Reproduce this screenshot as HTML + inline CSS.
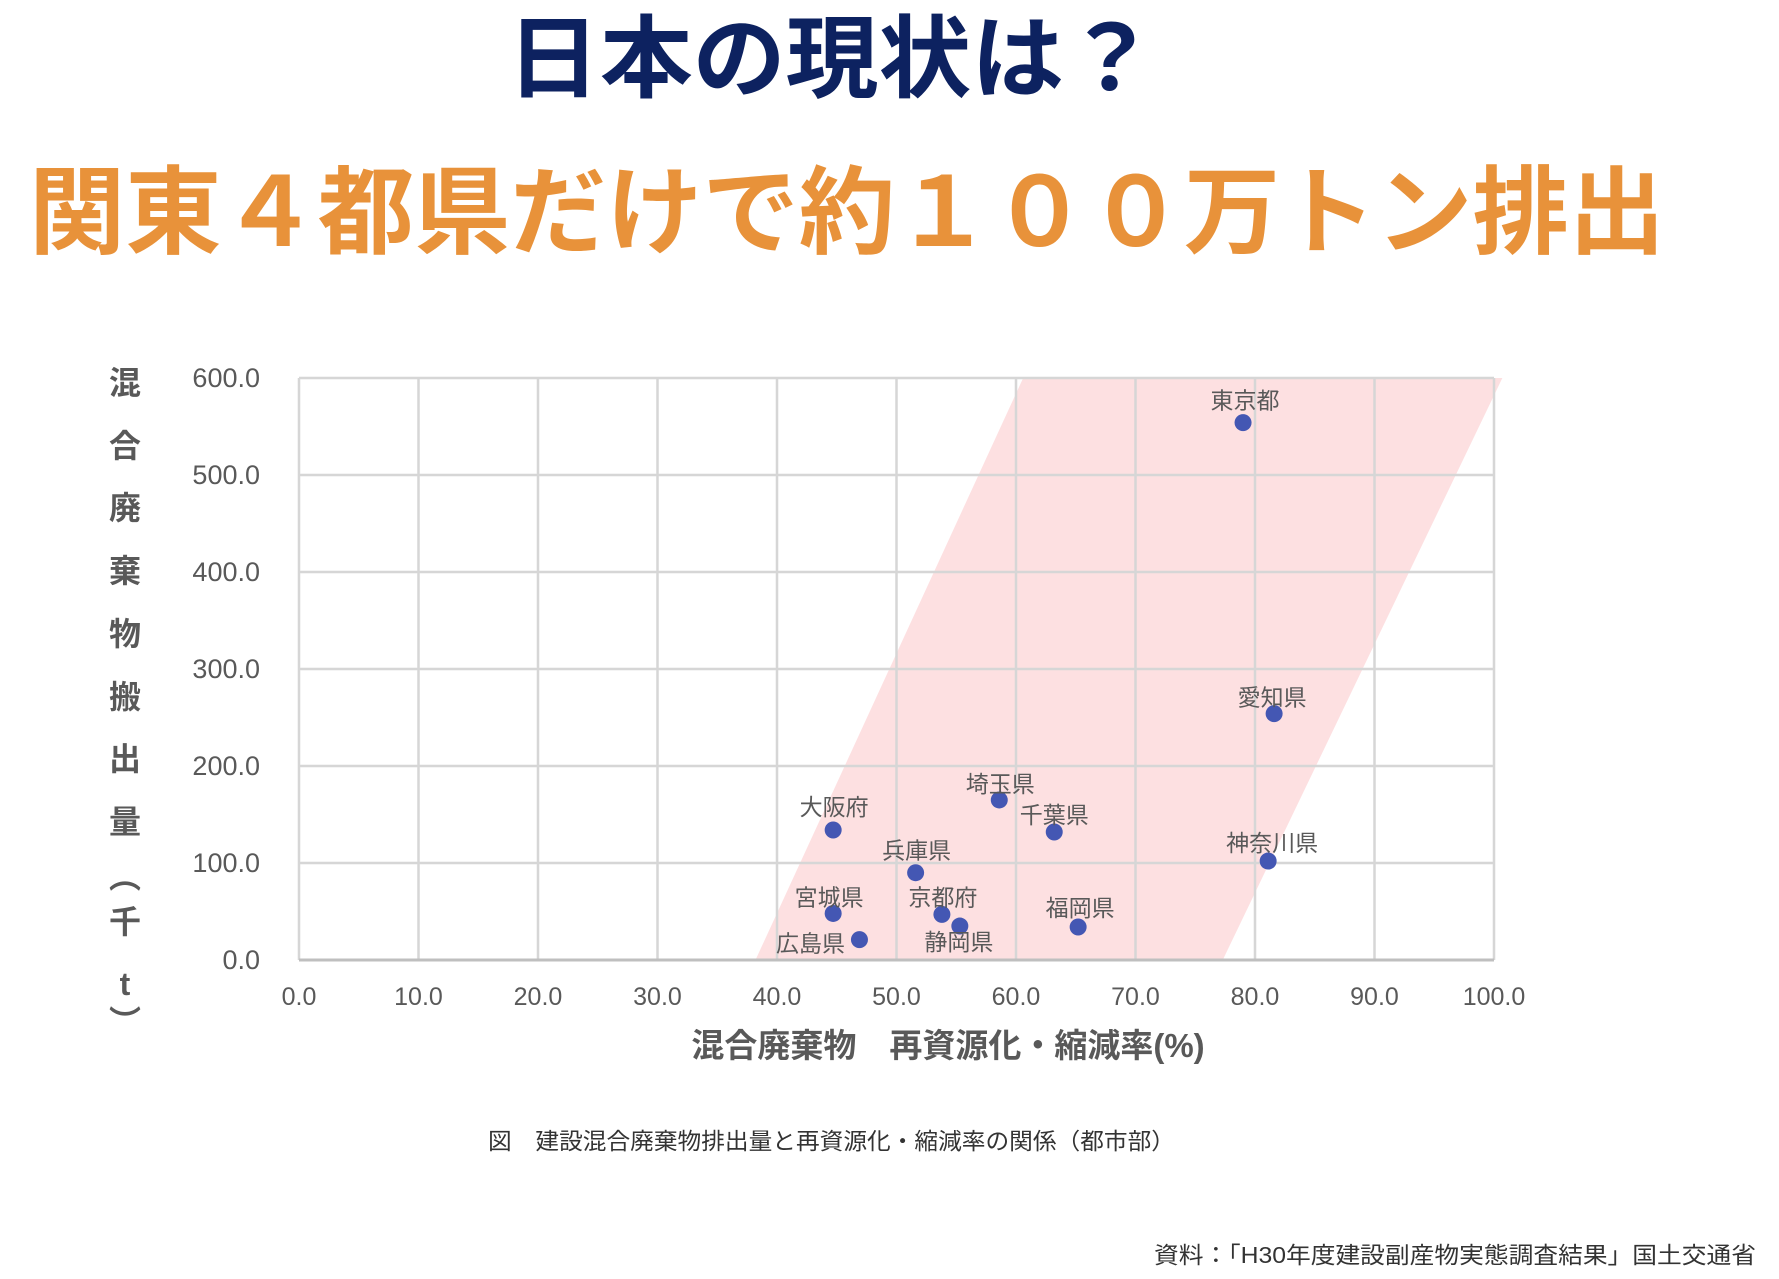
<!DOCTYPE html>
<html><head><meta charset="utf-8"><style>
html,body{margin:0;padding:0;background:#fff;}
body{width:1779px;height:1279px;overflow:hidden;position:relative;font-family:"Liberation Sans","Noto Sans CJK JP",sans-serif;}
svg{position:absolute;left:0;top:0;}
</style></head><body>
<svg id="chart" width="1779" height="1279" viewBox="0 0 1779 1279">
<text x="507" y="90" font-family="Liberation Sans, Noto Sans CJK JP, sans-serif" font-weight="bold" font-size="90" fill="#0d2260" textLength="650" lengthAdjust="spacingAndGlyphs">日本の現状は？</text>
<text x="29" y="246" font-family="Liberation Sans, Noto Sans CJK JP, sans-serif" font-weight="bold" font-size="96" fill="#e8923a" textLength="1636" lengthAdjust="spacingAndGlyphs">関東４都県だけで約１００万トン排出</text>
<g id="plot"></g>
<text x="948" y="1057" text-anchor="middle" font-family="Liberation Sans, Noto Sans CJK JP, sans-serif" font-weight="bold" font-size="33" fill="#595959">混合廃棄物　再資源化・縮減率(%)</text>
<g id="ytitle"></g>
<text x="488" y="1149" font-family="Liberation Sans, Noto Sans CJK JP, sans-serif" font-size="23" fill="#333" textLength="687" lengthAdjust="spacingAndGlyphs">図　建設混合廃棄物排出量と再資源化・縮減率の関係（都市部）</text>
<text x="1756" y="1263" text-anchor="end" font-family="Liberation Sans, Noto Sans CJK JP, sans-serif" font-size="23" fill="#333" textLength="602" lengthAdjust="spacingAndGlyphs">資料：「H30年度建設副産物実態調査結果」国土交通省</text>
</svg>
<script>
const xTicks = [0,10,20,30,40,50,60,70,80,90,100];
const yTicks = [0,100,200,300,400,500,600];
const names = ["東京都","愛知県","埼玉県","千葉県","大阪府","神奈川県","兵庫県","宮城県","京都府","静岡県","福岡県","広島県"];
const rates = [79.0,81.6,58.6,63.2,44.7,81.1,51.6,44.7,53.8,55.3,65.2,46.9];
const amounts = [554,254,165,132,134,102,90,48,47,35,34,21];
const bandX = [38.2,60.6,100.7,77.3];
const bandY = [0,600,600,0];
const labelDX = [2,-2,1,0,1,4,1,-4,1,-1,2,-49];
const labelDY = [-14,-8,-8,-9,-15,-10,-14,-8,-9,24,-11,12];

const L=299,R=1494,B=960,T=378;
const sx=v=>L+(v/100)*(R-L);
const sy=v=>B-(v/600)*(B-T);
const NS="http://www.w3.org/2000/svg";
const plot=document.getElementById('plot');
function mk(tag,attrs,parent){const e=document.createElementNS(NS,tag);for(const k in attrs)e.setAttribute(k,attrs[k]);(parent||plot).appendChild(e);return e;}

let pts=bandX.map((x,i)=>sx(x)+','+sy(bandY[i])).join(' ');
const band=mk('polygon',{points:pts,fill:'#fde0e1'});



yTicks.forEach(v=>{
  const ln=mk('line',{x1:L,x2:R,y1:sy(v),y2:sy(v),stroke:'#d6d6d6','stroke-width':2.5});
  
  
  const t=mk('text',{x:260,y:sy(v)+9,'text-anchor':'end','font-size':27,fill:'#595959'});
  t.textContent=v.toFixed(1);
  
  
});
xTicks.forEach(v=>{
  const ln=mk('line',{x1:sx(v),x2:sx(v),y1:T,y2:B,stroke:'#d6d6d6','stroke-width':2.5});
  
  
  const t=mk('text',{x:sx(v),y:1005,'text-anchor':'middle','font-size':25,fill:'#595959'});
  t.textContent=v.toFixed(1);
  
  
});
const ax=mk('line',{x1:L,x2:R,y1:B,y2:B,stroke:'#bfbfbf','stroke-width':3});



names.forEach((n,i)=>{
  const c=mk('circle',{cx:sx(rates[i]),cy:sy(amounts[i]),r:8.5,fill:'#4457b3'});
  
  
  const t=mk('text',{x:sx(rates[i])+labelDX[i],y:sy(amounts[i])+labelDY[i],'text-anchor':'middle','font-size':23,fill:'#595959','font-family':'Liberation Sans, Noto Sans CJK JP, sans-serif'});
  t.textContent=n;
  
  
});

const yChars=["混","合","廃","棄","物","搬","出","量","︵","千","t","︶"];
const yPos=[382,445,507,570,633,696,758,821,876,921,983,1021];
const yt=document.getElementById('ytitle');
yChars.forEach((ch,i)=>{
  const t=mk('text',{x:125,y:yPos[i]+12,'text-anchor':'middle','font-size':32,'font-weight':'bold',fill:'#595959','font-family':'Liberation Sans, Noto Sans CJK JP, sans-serif'},yt);
  t.textContent=ch;
  
  
});
</script>
</body></html>
